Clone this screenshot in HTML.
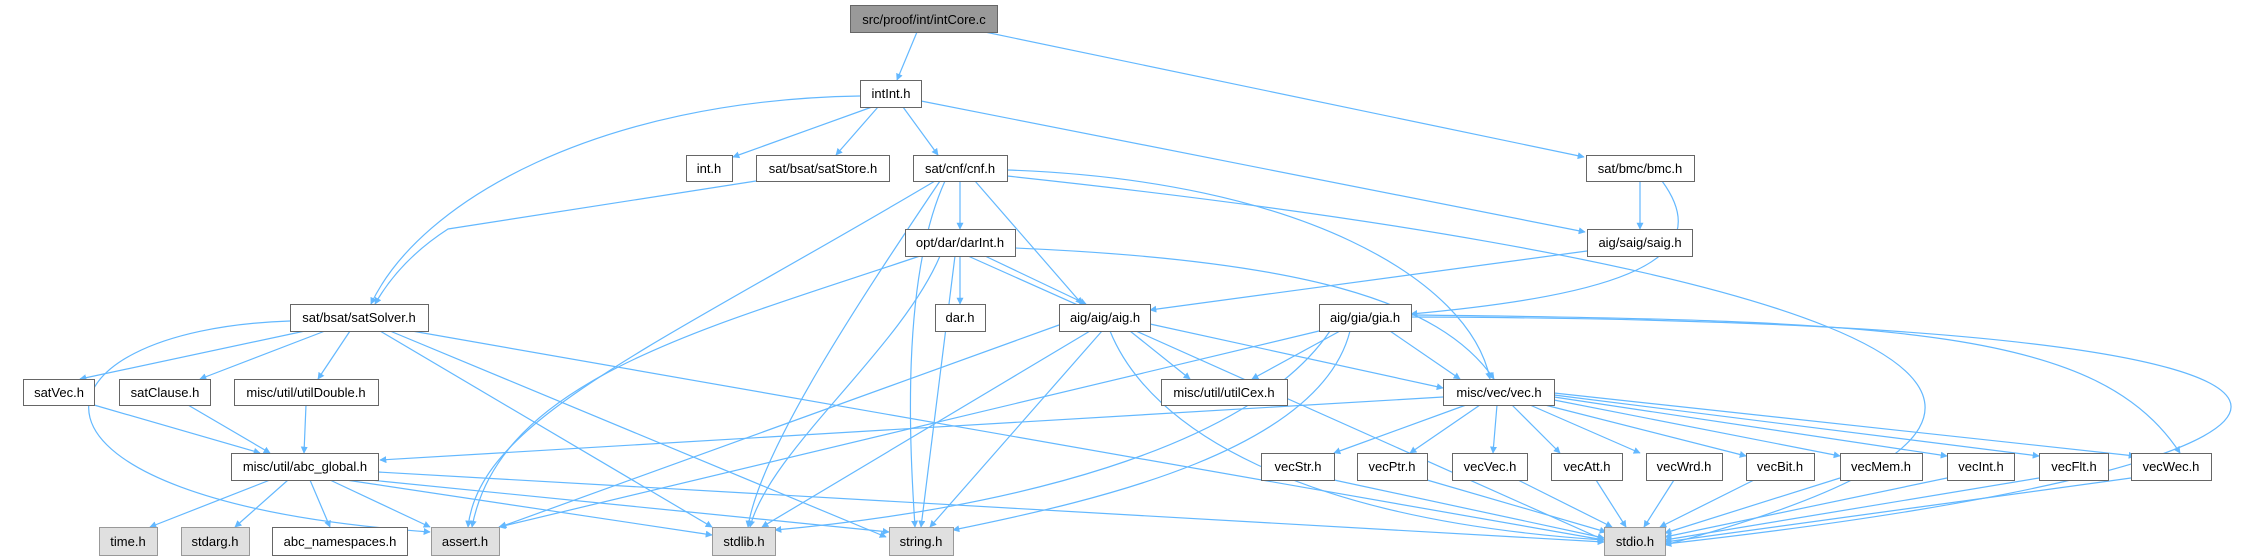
<!DOCTYPE html>
<html><head><meta charset="utf-8"><style>
html,body{margin:0;padding:0;background:#fff;}
svg{display:block;}
text{font-family:"Liberation Sans",sans-serif;font-size:13px;fill:#000;}
</style></head><body>
<svg width="2256" height="560" viewBox="0 0 2256 560" xmlns="http://www.w3.org/2000/svg">
<defs><marker id="a" viewBox="0 0 10 10" refX="9" refY="5" markerWidth="7" markerHeight="7" orient="auto" markerUnits="userSpaceOnUse"><path d="M0,0 L10,5 L0,10 z" fill="#63b8ff"/></marker></defs>
<g fill="none" stroke="#63b8ff" stroke-width="1.2" marker-end="url(#a)">
<path d="M917 32 L897 80"/>
<path d="M985 32 L1584 157"/>
<path d="M872 107 L733 157"/>
<path d="M878 107 L836 155"/>
<path d="M903 107 L938 155"/>
<path d="M860 96 C600 100 420 200 371 304"/>
<path d="M921 101 L1585 232"/>
<path d="M756 181 L448 229 Q400 260 375 304"/>
<path d="M960 181 L960 229"/>
<path d="M975 181 L1082 304"/>
<path d="M1007 170 C1300 180 1470 280 1490 379"/>
<path d="M935 181 C650 350 480 420 468 527"/>
<path d="M940 181 C860 300 760 450 748 527"/>
<path d="M945 181 C900 280 910 450 915 527"/>
<path d="M1007 176 C1700 250 2280 380 1665 545"/>
<path d="M1640 181 L1640 229"/>
<path d="M1662 181 C1720 260 1620 295 1411 314"/>
<path d="M1587 251 L1150 310"/>
<path d="M960 256 L960 304"/>
<path d="M985 256 L1086 304"/>
<path d="M1015 248 C1300 260 1440 300 1494 379"/>
<path d="M920 256 C700 330 500 380 472 527"/>
<path d="M940 256 C900 350 770 450 750 527"/>
<path d="M955 256 L921 527"/>
<path d="M968 256 L1604 540"/>
<path d="M305 331 L80 379"/>
<path d="M325 331 L200 379"/>
<path d="M350 331 L318 379"/>
<path d="M290 321 C20 330 -20 500 430 532"/>
<path d="M380 331 L712 527"/>
<path d="M390 331 L886 537"/>
<path d="M412 331 L1604 540"/>
<path d="M94 405 L260 453"/>
<path d="M188 405 L270 453"/>
<path d="M306 405 L304 453"/>
<path d="M1443 397 L380 460"/>
<path d="M1466 405 L1334 453"/>
<path d="M1480 405 L1410 453"/>
<path d="M1497 405 L1493 453"/>
<path d="M1512 405 L1560 453"/>
<path d="M1530 405 L1640 453"/>
<path d="M1545 405 L1746 456"/>
<path d="M1554 400 L1840 456"/>
<path d="M1554 397 L1947 456"/>
<path d="M1554 395 L2039 456"/>
<path d="M1554 393 L2135 456"/>
<path d="M1334 480 L1604 538"/>
<path d="M1427 480 L1606 532"/>
<path d="M1518 480 L1612 527"/>
<path d="M1596 480 L1626 527"/>
<path d="M1674 480 L1644 527"/>
<path d="M1754 480 L1660 527"/>
<path d="M1840 478 L1665 533"/>
<path d="M1947 478 L1665 537"/>
<path d="M2039 478 L1665 540"/>
<path d="M2131 478 L1665 542"/>
<path d="M270 480 L150 527"/>
<path d="M288 480 L235 527"/>
<path d="M310 480 L330 527"/>
<path d="M330 480 L430 527"/>
<path d="M346 480 L712 535"/>
<path d="M370 480 L889 532"/>
<path d="M378 472 L1604 542"/>
<path d="M1130 331 L1190 379"/>
<path d="M1150 324 L1443 388"/>
<path d="M1059 325 L500 527"/>
<path d="M1090 331 L762 527"/>
<path d="M1102 331 L930 527"/>
<path d="M1110 331 C1150 430 1300 520 1604 540"/>
<path d="M1340 331 L1252 379"/>
<path d="M1390 331 L1460 379"/>
<path d="M1411 315 C1900 320 2100 330 2180 453"/>
<path d="M1411 317 C2500 320 2420 460 1665 544"/>
<path d="M1319 331 L499 527"/>
<path d="M1330 331 C1250 450 1000 510 775 530"/>
<path d="M1350 331 C1320 450 1100 500 953 530"/>
</g>
<g stroke="#666" stroke-width="1">
<rect x="850.5" y="5.5" width="147" height="27" fill="#999"/>
<rect x="860.5" y="80.5" width="61" height="27" fill="#fff"/>
<rect x="686.5" y="155.5" width="46" height="26" fill="#fff"/>
<rect x="756.5" y="155.5" width="133" height="26" fill="#fff"/>
<rect x="913.5" y="155.5" width="94" height="26" fill="#fff"/>
<rect x="1586.5" y="155.5" width="108" height="26" fill="#fff"/>
<rect x="905.5" y="229.5" width="110" height="27" fill="#fff"/>
<rect x="1587.5" y="229.5" width="105" height="27" fill="#fff"/>
<rect x="290.5" y="304.5" width="138" height="27" fill="#fff"/>
<rect x="935.5" y="304.5" width="50" height="27" fill="#fff"/>
<rect x="1059.5" y="304.5" width="91" height="27" fill="#fff"/>
<rect x="1319.5" y="304.5" width="92" height="27" fill="#fff"/>
<rect x="23.5" y="379.5" width="71" height="26" fill="#fff"/>
<rect x="119.5" y="379.5" width="91" height="26" fill="#fff"/>
<rect x="234.5" y="379.5" width="144" height="26" fill="#fff"/>
<rect x="1161.5" y="379.5" width="126" height="26" fill="#fff"/>
<rect x="1443.5" y="379.5" width="111" height="26" fill="#fff"/>
<rect x="231.5" y="453.5" width="147" height="27" fill="#fff"/>
<rect x="1261.5" y="453.5" width="73" height="27" fill="#fff"/>
<rect x="1357.5" y="453.5" width="70" height="27" fill="#fff"/>
<rect x="1452.5" y="453.5" width="75" height="27" fill="#fff"/>
<rect x="1551.5" y="453.5" width="71" height="27" fill="#fff"/>
<rect x="1646.5" y="453.5" width="76" height="27" fill="#fff"/>
<rect x="1746.5" y="453.5" width="68" height="27" fill="#fff"/>
<rect x="1840.5" y="453.5" width="82" height="27" fill="#fff"/>
<rect x="1947.5" y="453.5" width="67" height="27" fill="#fff"/>
<rect x="2039.5" y="453.5" width="69" height="27" fill="#fff"/>
<rect x="2131.5" y="453.5" width="80" height="27" fill="#fff"/>
<rect x="272.5" y="527.5" width="135" height="28" fill="#fff"/>
</g>
<g stroke="#999" stroke-width="1" fill="#e0e0e0">
<rect x="99.5" y="527.5" width="58" height="28"/>
<rect x="181.5" y="527.5" width="68" height="28"/>
<rect x="431.5" y="527.5" width="68" height="28"/>
<rect x="712.5" y="527.5" width="63" height="28"/>
<rect x="889.5" y="527.5" width="64" height="28"/>
<rect x="1604.5" y="527.5" width="61" height="28"/>
</g>
<g text-anchor="middle">
<text x="924" y="24">src/proof/int/intCore.c</text>
<text x="891" y="98">intInt.h</text>
<text x="709" y="173">int.h</text>
<text x="823" y="173">sat/bsat/satStore.h</text>
<text x="960" y="173">sat/cnf/cnf.h</text>
<text x="1640" y="173">sat/bmc/bmc.h</text>
<text x="960" y="247">opt/dar/darInt.h</text>
<text x="1640" y="247">aig/saig/saig.h</text>
<text x="359" y="322">sat/bsat/satSolver.h</text>
<text x="960" y="322">dar.h</text>
<text x="1105" y="322">aig/aig/aig.h</text>
<text x="1365" y="322">aig/gia/gia.h</text>
<text x="59" y="397">satVec.h</text>
<text x="165" y="397">satClause.h</text>
<text x="306" y="397">misc/util/utilDouble.h</text>
<text x="1224" y="397">misc/util/utilCex.h</text>
<text x="1499" y="397">misc/vec/vec.h</text>
<text x="305" y="471">misc/util/abc_global.h</text>
<text x="1298" y="471">vecStr.h</text>
<text x="1392" y="471">vecPtr.h</text>
<text x="1490" y="471">vecVec.h</text>
<text x="1587" y="471">vecAtt.h</text>
<text x="1684" y="471">vecWrd.h</text>
<text x="1780" y="471">vecBit.h</text>
<text x="1881" y="471">vecMem.h</text>
<text x="1981" y="471">vecInt.h</text>
<text x="2074" y="471">vecFlt.h</text>
<text x="2171" y="471">vecWec.h</text>
<text x="128" y="546">time.h</text>
<text x="215" y="546">stdarg.h</text>
<text x="340" y="546">abc_namespaces.h</text>
<text x="465" y="546">assert.h</text>
<text x="744" y="546">stdlib.h</text>
<text x="921" y="546">string.h</text>
<text x="1635" y="546">stdio.h</text>
</g>
</svg>
</body></html>
